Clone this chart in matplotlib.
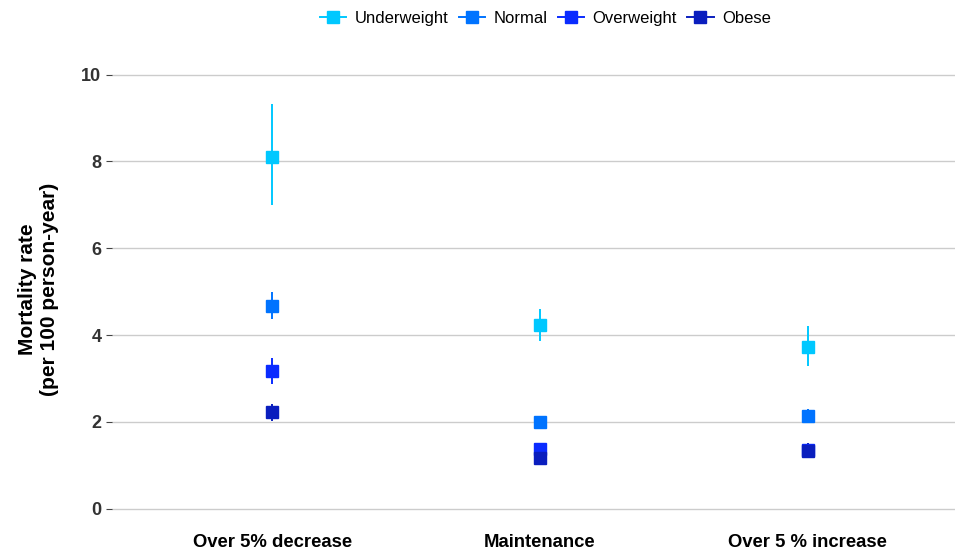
import matplotlib
matplotlib.use("Agg")
import matplotlib.pyplot as plt
from matplotlib.lines import Line2D

plt.rcParams["font.family"] = ["Liberation Sans", "DejaVu Sans"]

categories = ["Over 5% decrease", "Maintenance", "Over 5 % increase"]
groups = ["Underweight", "Normal", "Overweight", "Obese"]
colors = ["#00C8FF", "#0073FF", "#0A2BFF", "#0A1EBE"]

rate = {
    "Underweight": [8.10, 4.22, 3.72],
    "Normal": [4.67, 2.00, 2.13],
    "Overweight": [3.17, 1.38, 1.35],
    "Obese": [2.22, 1.17, 1.33],
}
lower = {
    "Underweight": [7.00, 3.86, 3.29],
    "Normal": [4.37, 1.94, 1.98],
    "Overweight": [2.87, 1.30, 1.20],
    "Obese": [2.02, 1.10, 1.17],
}
upper = {
    "Underweight": [9.33, 4.60, 4.21],
    "Normal": [4.99, 2.06, 2.30],
    "Overweight": [3.47, 1.46, 1.50],
    "Obese": [2.41, 1.24, 1.52],
}

fig = plt.figure(figsize=(9.55, 5.55), dpi=100)
ax = fig.add_axes([0.117, 0.06, 0.883, 0.837])

x = list(range(1, len(categories) + 1))
for group, color in zip(groups, colors):
    y = rate[group]
    yerr = [[v - lo for v, lo in zip(y, lower[group])],
            [hi - v for v, hi in zip(y, upper[group])]]
    ax.errorbar(x, y, yerr=yerr, fmt="s", color=color, ecolor=color,
                markersize=9, elinewidth=1.4, capsize=0, zorder=3)

ax.set_xlim(0.4, 3.55)
ax.set_ylim(-0.3, 10.4)
ax.set_yticks([0, 2, 4, 6, 8, 10])
ax.set_xticks(x)
ax.set_xticklabels(categories, fontsize=13.3, fontweight="bold", color="black")
ax.tick_params(axis="x", length=0, pad=9)
ax.tick_params(axis="y", length=4, width=0.8, color="#444444", labelsize=13,
               labelcolor="#333333")
for lab in ax.get_yticklabels():
    lab.set_fontweight("bold")
ax.grid(axis="y", color="#cccccc", linewidth=1.0)
ax.set_axisbelow(True)
for s in ax.spines.values():
    s.set_visible(False)

ax.set_ylabel("Mortality rate\n(per 100 person-year)", fontsize=15,
              fontweight="bold", labelpad=16)

handles = [Line2D([0], [0], color=c, marker="s", markersize=8.5, linewidth=1.4)
           for c in colors]
fig.legend(handles, groups, loc="upper center", bbox_to_anchor=(0.571, 1.008),
           ncol=4, frameon=False, fontsize=12, handlelength=1.6,
           handletextpad=0.5, columnspacing=0.6)

fig.savefig("out.png", dpi=100)
